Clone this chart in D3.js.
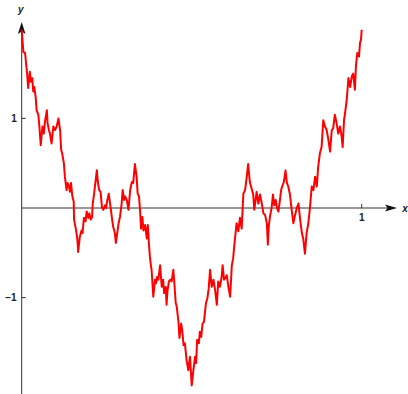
<!DOCTYPE html>
<html>
<head>
<meta charset="utf-8">
<script src="https://cdn.jsdelivr.net/npm/d3@7"></script>
<style>
  body { margin: 0; background: #fff; }
  svg { display: block; }
  .tick-label { font-family: "Liberation Sans", Arial, sans-serif; font-size: 10px; font-weight: bold; fill: #222; }
  .axis-label { font-family: "Liberation Sans", Arial, sans-serif; font-size: 10px; font-weight: bold; font-style: italic; fill: #222; }
</style>
</head>
<body>
<div id="chart"></div>
<script>
// curve: [x, y]
const curvePoints = [
  [0.000, 1.99],[0.005, 1.74],[0.010, 1.73],[0.013, 1.61],[0.016, 1.50],[0.019, 1.34],[0.024, 1.52],[0.027, 1.41],
  [0.031, 1.45],[0.034, 1.30],[0.037, 1.35],[0.041, 1.24],[0.044, 1.09],[0.049, 1.04],[0.052, 0.91],[0.056, 0.70],
  [0.061, 0.91],[0.065, 0.83],[0.069, 0.98],[0.074, 1.09],[0.076, 0.95],[0.080, 0.87],[0.083, 0.83],[0.088, 0.72],
  [0.093, 0.91],[0.098, 0.87],[0.103, 0.91],[0.108, 1.00],[0.113, 0.87],[0.116, 0.65],[0.119, 0.61],[0.124, 0.50],
  [0.127, 0.35],[0.132, 0.20],[0.135, 0.28],[0.139, 0.24],[0.142, 0.18],[0.145, 0.28],[0.149, 0.13],[0.153, 0.07],
  [0.154, -0.13],[0.160, -0.25],[0.164, -0.36],[0.166, -0.49],[0.171, -0.32],[0.176, -0.25],[0.179, -0.28],[0.183, -0.11],
  [0.188, -0.15],[0.191, -0.04],[0.196, -0.11],[0.199, -0.06],[0.203, -0.13],[0.207, -0.10],[0.209, 0.05],[0.213, 0.16],
  [0.216, 0.26],[0.221, 0.42],[0.224, 0.29],[0.228, 0.20],[0.232, 0.18],[0.236, 0.01],[0.240, -0.02],[0.245, 0.03],
  [0.248, 0.00],[0.252, 0.09],[0.256, 0.16],[0.260, 0.05],[0.265, -0.10],[0.269, -0.21],[0.274, -0.28],[0.277, -0.39],
  [0.281, -0.28],[0.285, -0.17],[0.289, -0.10],[0.294, 0.05],[0.297, 0.20],[0.301, 0.09],[0.304, 0.13],[0.309, 0.09],
  [0.314, -0.02],[0.319, 0.20],[0.324, 0.29],[0.328, 0.28],[0.333, 0.49],[0.338, 0.35],[0.341, 0.16],[0.345, 0.13],
  [0.348, -0.02],[0.351, -0.23],[0.355, -0.10],[0.358, -0.25],[0.363, -0.19],[0.368, -0.34],[0.371, -0.19],[0.374, -0.39],
  [0.377, -0.54],[0.380, -0.64],[0.382, -0.69],[0.387, -0.99],[0.392, -0.80],[0.395, -0.84],[0.398, -0.77],[0.402, -0.80],
  [0.407, -0.64],[0.412, -0.88],[0.416, -0.80],[0.419, -0.95],[0.424, -0.88],[0.426, -1.08],[0.429, -0.92],[0.433, -0.82],
  [0.437, -0.80],[0.441, -0.82],[0.446, -0.69],[0.449, -0.84],[0.453, -1.06],[0.456, -1.10],[0.461, -1.27],[0.464, -1.45],
  [0.469, -1.29],[0.472, -1.36],[0.476, -1.53],[0.480, -1.51],[0.485, -1.70],[0.490, -1.81],[0.495, -1.66],[0.500, -1.98],
  [0.505, -1.81],[0.510, -1.66],[0.513, -1.73],[0.516, -1.47],[0.521, -1.51],[0.524, -1.38],[0.528, -1.44],[0.532, -1.29],
  [0.536, -1.27],[0.542, -1.06],[0.546, -1.01],[0.550, -0.90],[0.554, -0.69],[0.559, -0.88],[0.564, -0.80],[0.569, -0.92],
  [0.574, -1.08],[0.578, -0.82],[0.583, -0.88],[0.588, -0.77],[0.591, -0.64],[0.595, -0.80],[0.599, -0.78],[0.603, -0.75],
  [0.608, -0.88],[0.613, -0.99],[0.618, -0.64],[0.622, -0.56],[0.625, -0.43],[0.632, -0.17],[0.637, -0.26],[0.642, -0.11],
  [0.647, -0.23],[0.652, 0.16],[0.657, 0.20],[0.662, 0.35],[0.666, 0.49],[0.671, 0.29],[0.676, 0.22],[0.681, 0.15],
  [0.684, -0.02],[0.688, 0.09],[0.691, 0.18],[0.696, 0.05],[0.701, 0.15],[0.706, 0.05],[0.711, -0.06],[0.716, -0.08],
  [0.721, -0.17],[0.724, -0.41],[0.727, -0.19],[0.731, -0.08],[0.735, 0.00],[0.739, 0.15],[0.743, 0.03],[0.747, 0.09],
  [0.751, 0.00],[0.755, -0.04],[0.759, 0.07],[0.763, 0.20],[0.766, 0.24],[0.771, 0.29],[0.776, 0.42],[0.780, 0.28],
  [0.784, 0.24],[0.789, 0.15],[0.794, -0.02],[0.799, -0.17],[0.804, -0.08],[0.809, 0.00],[0.814, 0.05],[0.819, -0.13],
  [0.824, -0.28],[0.828, -0.34],[0.833, -0.51],[0.838, -0.28],[0.843, -0.17],[0.848, 0.01],[0.853, 0.24],[0.858, 0.20],
  [0.863, 0.35],[0.868, 0.24],[0.872, 0.46],[0.877, 0.61],[0.882, 0.68],[0.887, 0.98],[0.892, 0.91],[0.897, 0.87],
  [0.902, 0.76],[0.907, 0.63],[0.912, 0.87],[0.916, 0.89],[0.921, 1.04],[0.926, 0.95],[0.931, 0.83],[0.936, 0.91],
  [0.941, 0.80],[0.944, 0.68],[0.948, 0.98],[0.951, 1.06],[0.956, 1.21],[0.961, 1.45],[0.966, 1.35],[0.971, 1.47],
  [0.975, 1.50],[0.980, 1.32],[0.983, 1.58],[0.987, 1.73],[0.992, 1.69],[0.995, 1.84],[0.998, 1.88],[1.000, 1.99]
];
const xTicks = [1];
const xTickLabels = ["1"];
const yTicks = [1, -1];
const yTickLabels = ["1", "\u22121"];

const width = 408, height = 394;

const svg = d3.select("#chart").append("svg")
    .attr("width", width)
    .attr("height", height);

// scales (x: 0..1 over the axis, y: -1..1 between the ticks)
const x = d3.scaleLinear().domain([0, 1]).range([21.7, 361.7]);
const y = d3.scaleLinear().domain([-1, 1]).range([297.6, 118.4]);

const axisColor = "#333";
const x0 = x(0), y0 = y(0);

// y axis line + arrow
svg.append("line")
    .attr("x1", x0).attr("x2", x0)
    .attr("y1", height).attr("y2", 30)
    .attr("stroke", axisColor).attr("stroke-width", 1);
svg.append("path")
    .attr("d", `M${x0},22 L${x0 - 3.8},34 L${x0},31.5 L${x0 + 3.8},34 Z`)
    .attr("fill", "#111");
svg.append("text")
    .attr("class", "axis-label")
    .attr("x", x0 - 1).attr("y", 13)
    .attr("text-anchor", "middle")
    .text("y");

// x axis line + arrow
svg.append("line")
    .attr("x1", x0).attr("x2", 388)
    .attr("y1", y0).attr("y2", y0)
    .attr("stroke", axisColor).attr("stroke-width", 1);
svg.append("path")
    .attr("d", `M397,${y0} L385,${y0 - 3.5} L387.5,${y0} L385,${y0 + 3.5} Z`)
    .attr("fill", "#111");
svg.append("text")
    .attr("class", "axis-label")
    .attr("x", 405).attr("y", y0 + 4)
    .attr("text-anchor", "middle")
    .text("x");

// ticks
svg.selectAll(".xtick")
    .data(xTicks)
    .enter().append("line")
    .attr("class", "xtick")
    .attr("x1", d => x(d)).attr("x2", d => x(d))
    .attr("y1", y0 - 4).attr("y2", y0)
    .attr("stroke", axisColor);
svg.selectAll(".xtick-label")
    .data(xTicks)
    .enter().append("text")
    .attr("class", "tick-label")
    .attr("x", d => x(d)).attr("y", y0 + 13)
    .attr("text-anchor", "middle")
    .text((d, i) => xTickLabels[i]);

svg.selectAll(".ytick")
    .data(yTicks)
    .enter().append("line")
    .attr("class", "ytick")
    .attr("x1", x0).attr("x2", x0 + 4)
    .attr("y1", d => y(d)).attr("y2", d => y(d))
    .attr("stroke", axisColor);
svg.selectAll(".ytick-label")
    .data(yTicks)
    .enter().append("text")
    .attr("class", "tick-label")
    .attr("x", x0 - 5).attr("y", d => y(d) + 3.5)
    .attr("text-anchor", "end")
    .text((d, i) => yTickLabels[i]);

// the curve
const line = d3.line()
    .x(d => x(d[0]))
    .y(d => y(d[1]));

svg.append("path")
    .datum(curvePoints)
    .attr("fill", "none")
    .attr("stroke", "#ff0000")
    .attr("stroke-width", 2)
    .attr("stroke-linejoin", "round")
    .attr("d", line);
</script>
</body>
</html>
